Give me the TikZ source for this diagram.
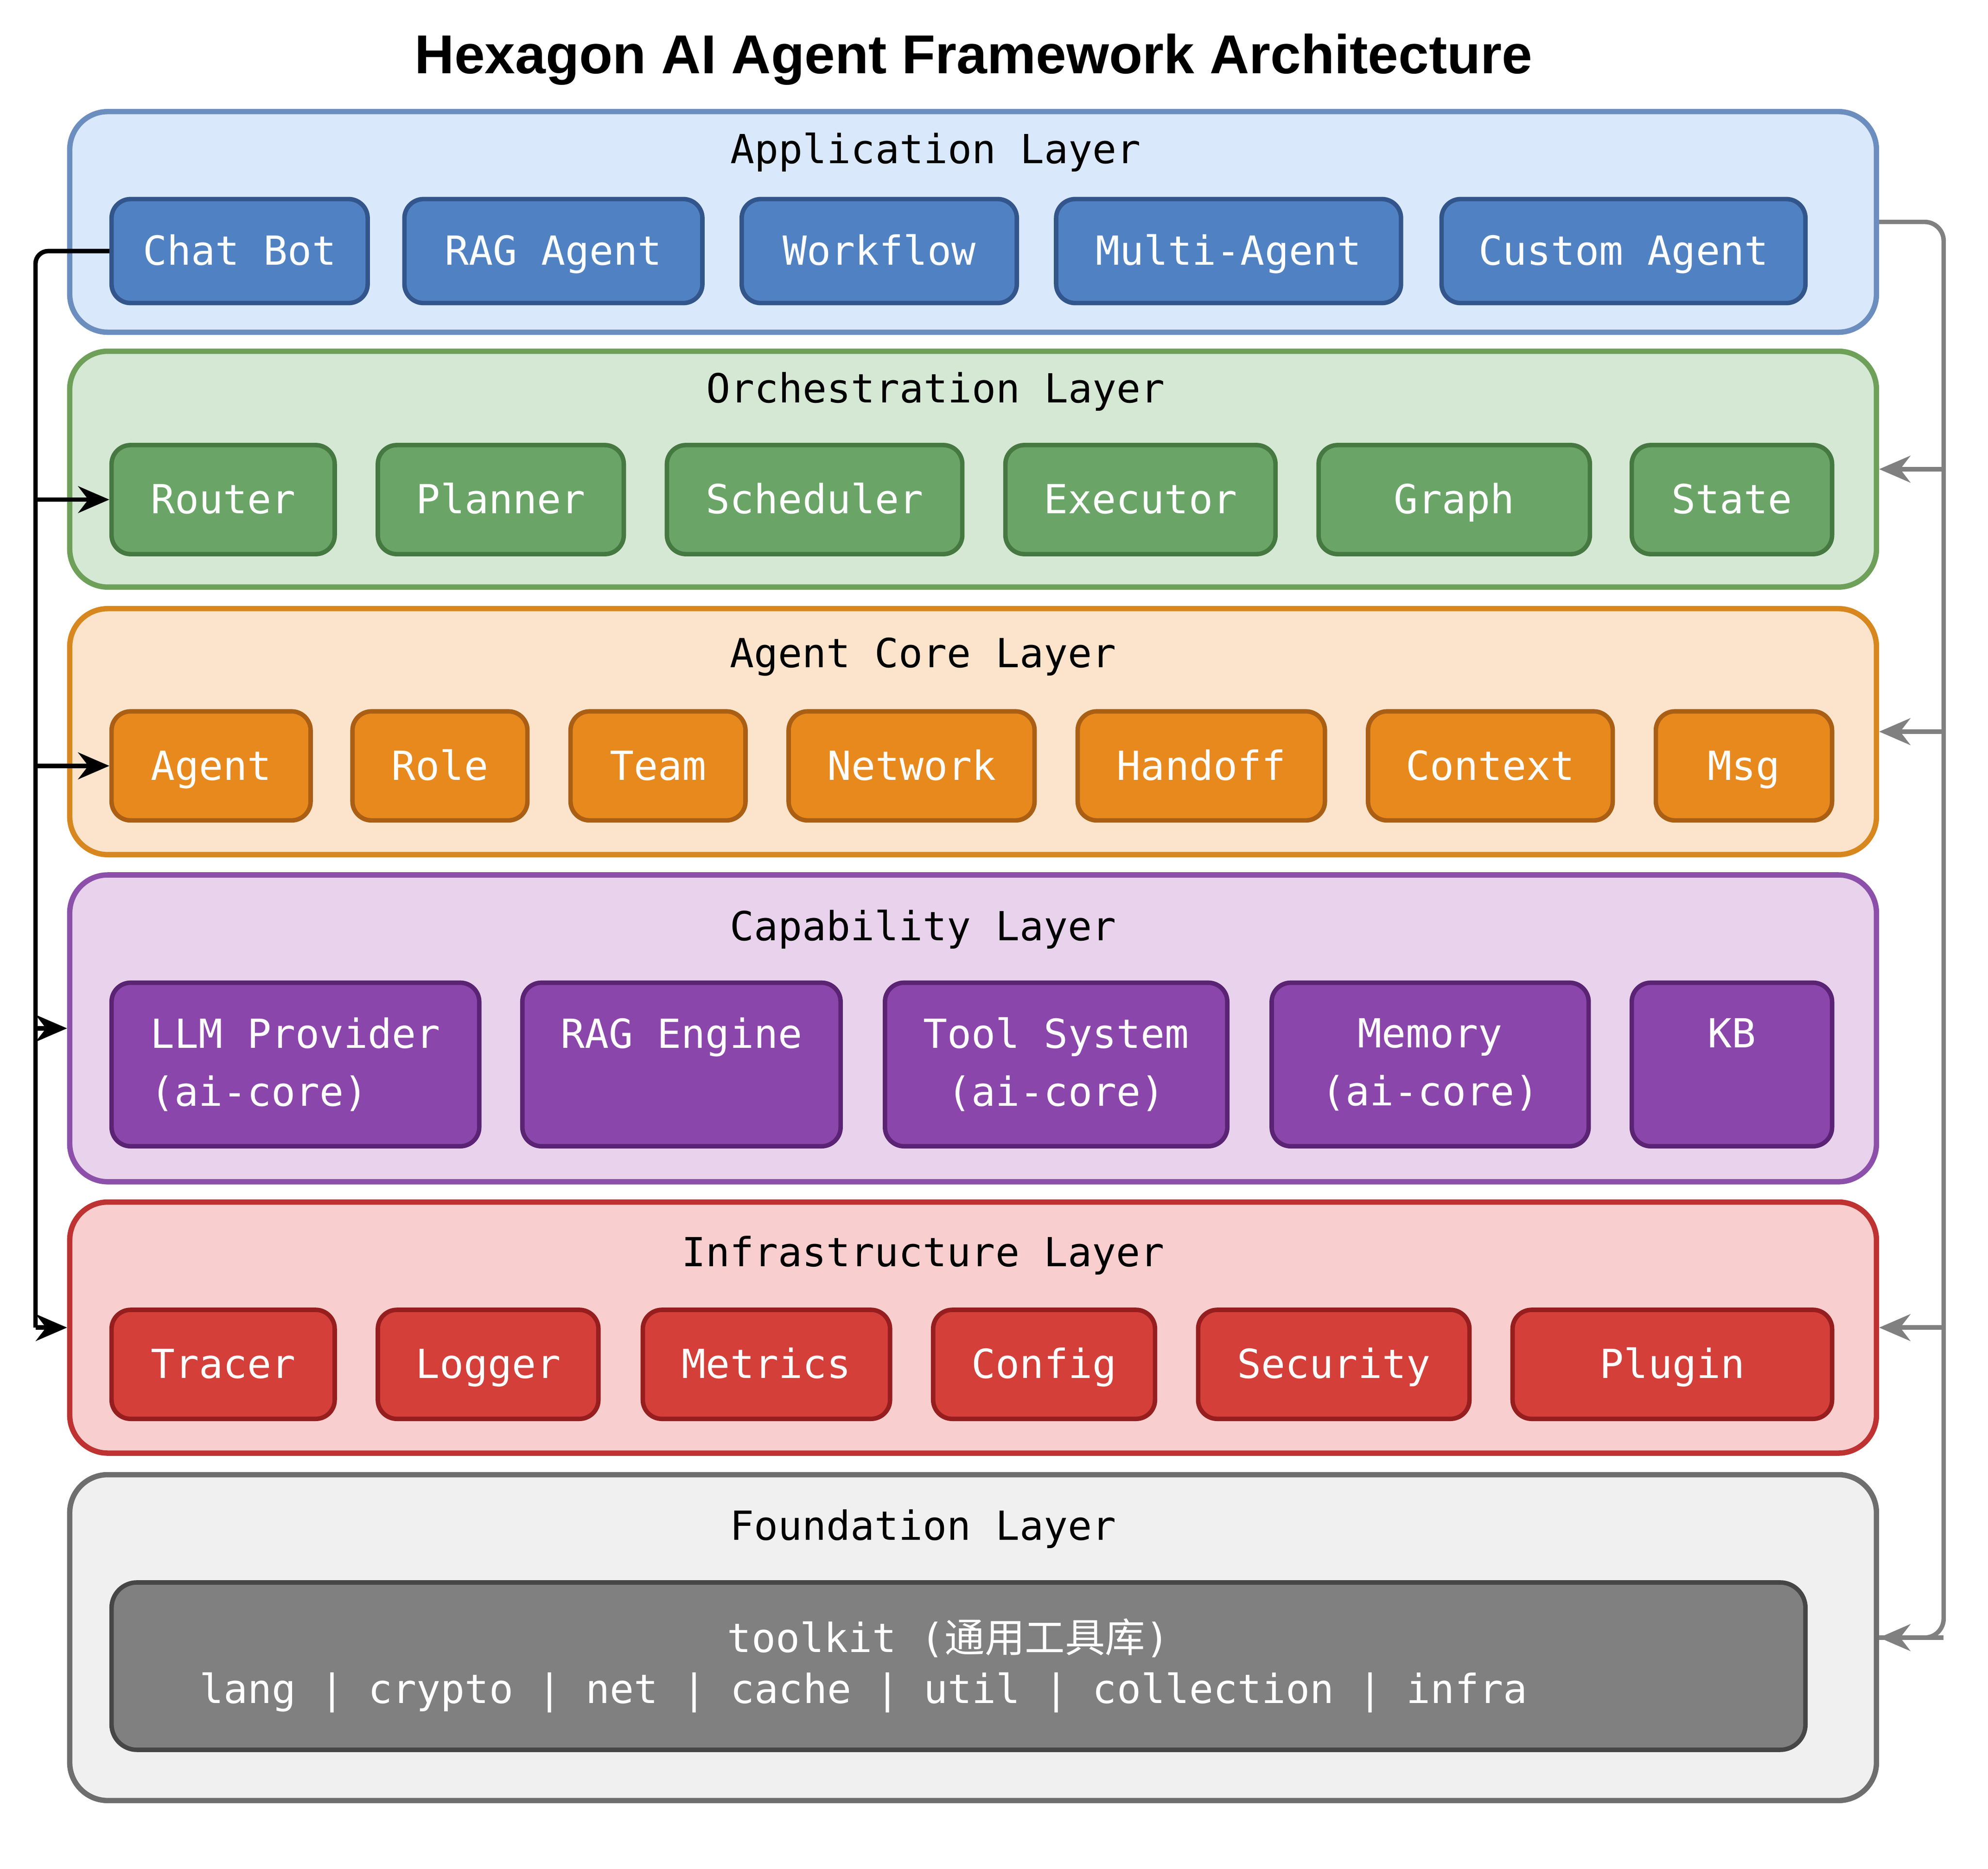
\documentclass[tikz,border=0pt]{standalone}
\usepackage{fontspec}
\setmainfont{DejaVu Sans Mono}
\newfontfamily\titlefont{Liberation Sans}
\newfontfamily\cjk{Noto Sans CJK SC}
\usetikzlibrary{arrows.meta}

\begin{document}
\begin{tikzpicture}

\tikzset{layer/.style = {rounded corners=0.3cm, line width=1.2pt, minimum width=14.25cm}}
\tikzset{comp/.style = {rounded corners=0.15cm, line width=1pt, text=white, font=\fontsize{9}{13}\selectfont, minimum height=0.86cm, text height=1.6ex, text depth=0.45ex}}
\tikzset{ltitle/.style = {font=\fontsize{9}{11}\selectfont}}
\tikzset{arc/.style = {-{Stealth[length=7pt,width=6pt]}, line width=1pt}}

\useasboundingbox (0,0) rectangle (15.68,-14.74);

% title
\node[font=\titlefont\bfseries\fontsize{12.3}{14}\selectfont] (title) at (7.68,-0.47) {Hexagon AI Agent Framework Architecture};

% layers
\node[layer, draw={rgb,255:red,108;green,142;blue,191}, fill={rgb,255:red,218;green,232;blue,252}, minimum height=1.74cm] (app) at (7.675,-1.75) {};
\node[layer, draw={rgb,255:red,110;green,160;blue,90}, fill={rgb,255:red,213;green,232;blue,212}, minimum height=1.86cm] (orch) at (7.675,-3.70) {};
\node[layer, draw={rgb,255:red,215;green,135;blue,30}, fill={rgb,255:red,252;green,228;blue,204}, minimum height=1.94cm] (core) at (7.675,-5.77) {};
\node[layer, draw={rgb,255:red,140;green,80;blue,170}, fill={rgb,255:red,232;green,210;blue,236}, minimum height=2.42cm] (cap) at (7.675,-8.11) {};
\node[layer, draw={rgb,255:red,190;green,50;blue,50}, fill={rgb,255:red,248;green,206;blue,206}, minimum height=1.98cm] (infra) at (7.675,-10.47) {};
\node[layer, draw={rgb,255:red,110;green,110;blue,110}, fill={rgb,255:red,240;green,240;blue,240}, minimum height=2.57cm] (found) at (7.675,-12.915) {};

% layer titles
\node[ltitle] at (7.38,-1.20) {Application Layer};
\node[ltitle] at (7.38,-3.09) {Orchestration Layer};
\node[ltitle] at (7.28,-5.18) {Agent Core Layer};
\node[ltitle] at (7.28,-7.33) {Capability Layer};
\node[ltitle] at (7.28,-9.90) {Infrastructure Layer};
\node[ltitle] at (7.28,-12.06) {Foundation Layer};

% application
\tikzset{appc/.style = {comp, draw={rgb,255:red,50;green,85;blue,140}, fill={rgb,255:red,80;green,130;blue,195}, minimum height=0.82cm}}
\node[appc, minimum width=2.02cm] (chat) at (1.89,-1.98) {Chat Bot};
\node[appc, minimum width=2.35cm] (rag) at (4.365,-1.98) {RAG Agent};
\node[appc, minimum width=2.17cm] (flow) at (6.935,-1.98) {Workflow};
\node[appc, minimum width=2.72cm] (multi) at (9.69,-1.98) {Multi-Agent};
\node[appc, minimum width=2.87cm] (custom) at (12.805,-1.98) {Custom Agent};

% orchestration
\tikzset{orc/.style = {comp, draw={rgb,255:red,70;green,120;blue,65}, fill={rgb,255:red,106;green,165;blue,103}}}
\node[orc, minimum width=1.76cm] (router) at (1.76,-3.94) {Router};
\node[orc, minimum width=1.94cm] (planner) at (3.95,-3.94) {Planner};
\node[orc, minimum width=2.33cm] (sched) at (6.425,-3.94) {Scheduler};
\node[orc, minimum width=2.13cm] (exec) at (8.995,-3.94) {Executor};
\node[orc, minimum width=2.14cm] (graph) at (11.47,-3.94) {Graph};
\node[orc, minimum width=1.58cm] (state) at (13.66,-3.94) {State};

% agent core
\tikzset{corec/.style = {comp, draw={rgb,255:red,170;green,95;blue,20}, fill={rgb,255:red,232;green,137;blue,30}}}
\node[corec, minimum width=1.57cm] (agent) at (1.665,-6.04) {Agent};
\node[corec, minimum width=1.38cm] (role) at (3.47,-6.04) {Role};
\node[corec, minimum width=1.38cm] (team) at (5.19,-6.04) {Team};
\node[corec, minimum width=1.94cm] (net) at (7.19,-6.04) {Network};
\node[corec, minimum width=1.95cm] (handoff) at (9.475,-6.04) {Handoff};
\node[corec, minimum width=1.93cm] (ctx) at (11.755,-6.04) {Context};
\node[corec, minimum width=1.39cm] (msg) at (13.755,-6.04) {Msg};

% capability
\tikzset{capc/.style = {comp, draw={rgb,255:red,90;green,35;blue,115}, fill={rgb,255:red,139;green,70;blue,171}, minimum height=1.29cm, align=center, text height=, text depth=}}
\node[capc, minimum width=2.90cm, align=left] (llm) at (2.33,-8.395) {LLM Provider\\(ai-core)};
\node[capc, minimum width=2.51cm] (rage) at (5.375,-8.395) {RAG Engine\\\phantom{(}};
\node[capc, minimum width=2.70cm] (tool) at (8.33,-8.395) {Tool System\\(ai-core)};
\node[capc, minimum width=2.50cm] (mem) at (11.28,-8.395) {Memory\\(ai-core)};
\node[capc, minimum width=1.58cm] (kb) at (13.66,-8.395) {KB\\\phantom{(}};

% infrastructure
\tikzset{infc/.style = {comp, draw={rgb,255:red,150;green,30;blue,30}, fill={rgb,255:red,212;green,63;blue,58}}}
\node[infc, minimum width=1.76cm] (tracer) at (1.76,-10.76) {Tracer};
\node[infc, minimum width=1.74cm] (logger) at (3.85,-10.76) {Logger};
\node[infc, minimum width=1.95cm] (metrics) at (6.045,-10.76) {Metrics};
\node[infc, minimum width=1.75cm] (config) at (8.235,-10.76) {Config};
\node[infc, minimum width=2.14cm] (sec) at (10.52,-10.76) {Security};
\node[infc, minimum width=2.52cm] (plugin) at (13.19,-10.76) {Plugin};

% foundation
\node[comp, rounded corners=0.2cm, draw={rgb,255:red,70;green,70;blue,70}, fill={rgb,255:red,128;green,128;blue,128}, minimum width=13.36cm, minimum height=1.32cm] (toolkit) at (7.56,-13.14) {};
\node[text=white, font=\fontsize{9}{13}\selectfont] (tkname) at (7.48,-12.92) {toolkit ({\cjk 通用工具库})};
\node[text=white, font=\fontsize{9}{13}\selectfont] (tkmods) at (6.81,-13.35) {lang | crypto | net | cache | util | collection | infra};

% left connector
\coordinate (lt) at (0.28,-1.98);
\coordinate (lb) at (0.28,-10.47);
\draw[line width=1pt, rounded corners=0.1cm] (chat.west) -- (lt) -- (lb);
\draw[arc] (lt |- router.west) -- (router.west);
\draw[arc] (lt |- agent.west) -- (agent.west);
\draw[arc] (lt |- cap.west) -- (cap.west);
\draw[arc] (lb) -- (infra.west);

% right connector
\coordinate (rt) at (15.33,-1.75);
\coordinate (rb) at (15.33,-12.915);
\draw[line width=1pt, gray, rounded corners=0.15cm] (app.east) -- (rt) -- (rb) -- (found.east);
\draw[arc, gray] (rt |- orch.east) -- (orch.east);
\draw[arc, gray] (rt |- core.east) -- (core.east);
\draw[arc, gray] (rt |- infra.east) -- (infra.east);
\draw[arc, gray] (rb) -- (found.east);

\end{tikzpicture}
\end{document}
